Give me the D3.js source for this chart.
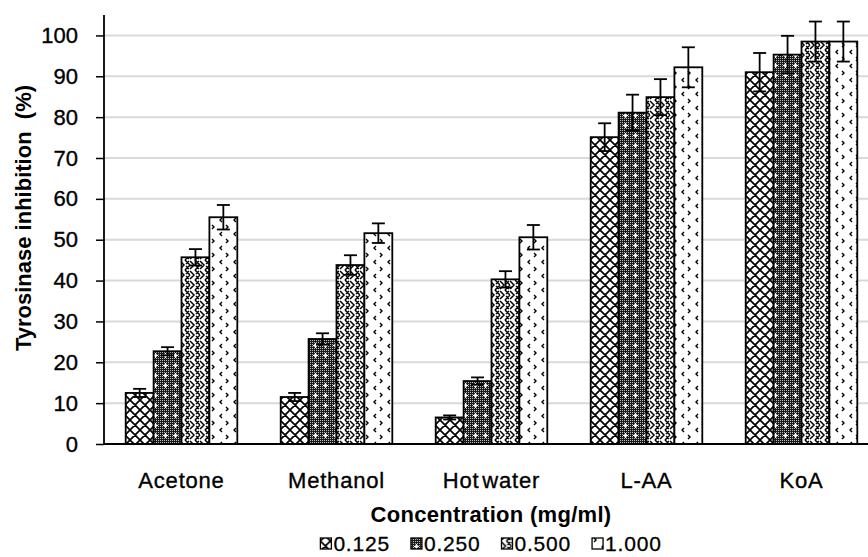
<!DOCTYPE html>
<meta charset="utf-8">
<style>
  body { margin: 0; background: #fff; }
  text { font-family: "Liberation Sans", Arial, sans-serif; fill: #000; }
</style>
<script src="https://d3js.org/d3.v7.min.js"></script>
<body>
<div id="chart"></div>
<script>

var categories = ["Acetone", "Methanol", "Hot water", "L-AA", "KoA"];
var series = ["0.125", "0.250", "0.500", "1.000"];

// mean inhibition (%) per concentration
var c0125 = [12.5, 11.5, 6.5, 75.1, 91.0];
var c0250 = [22.7, 25.7, 15.4, 81.1, 95.3];
var c0500 = [45.7, 43.8, 40.3, 84.9, 98.5];
var c1000 = [55.5, 51.6, 50.6, 92.2, 98.5];

// error (+/-)
var e0125 = [1.0, 1.0, 0.5, 3.4, 4.7];
var e0250 = [1.0, 1.4, 0.9, 4.4, 4.6];
var e0500 = [2.0, 2.4, 2.0, 4.4, 4.9];
var e1000 = [3.0, 2.4, 3.0, 4.9, 4.9];

var yTicks = [0, 10, 20, 30, 40, 50, 60, 70, 80, 90, 100];

var values = [c0125, c0250, c0500, c1000];
var errors = [e0125, e0250, e0500, e1000];

var width = 868,
    height = 557;

var svg = d3.select("#chart")
  .append("svg")
    .attr("width", width)
    .attr("height", height);

var defs = svg.append("defs");

// pattern 1: diamond lattice
var p1 = defs.append("pattern").attr("id", "pat0")
  .attr("patternUnits", "userSpaceOnUse").attr("width", 10).attr("height", 10);
p1.append("rect").attr("width", 10).attr("height", 10).attr("fill", "#fff");
p1.append("path").attr("d", "M0,0L10,10M10,0L0,10M-1,9L1,11M9,-1L11,1M-1,1L1,-1M9,11L11,9")
  .attr("stroke", "#000").attr("stroke-width", 1.7);

// pattern 2: dark fine grid with white crosses
var p2 = defs.append("pattern").attr("id", "pat1")
  .attr("patternUnits", "userSpaceOnUse").attr("width", 10).attr("height", 10);
p2.append("rect").attr("width", 10).attr("height", 10).attr("fill", "#1a1a1a");
for (var i = 0; i < 10; i += 2) {
  for (var j = 0; j < 10; j += 2) {
    p2.append("rect").attr("x", i).attr("y", j).attr("width", 1).attr("height", 1).attr("fill", "#bbb");
  }
}
p2.append("path").attr("d", "M3,5.5H8M5.5,3V8").attr("stroke", "#fff").attr("stroke-width", 1.2);

// pattern 3: weave / zigzag
var p3 = defs.append("pattern").attr("id", "pat2")
  .attr("patternUnits", "userSpaceOnUse").attr("width", 10).attr("height", 10);
p3.append("rect").attr("width", 10).attr("height", 10).attr("fill", "#fff");
p3.append("path")
  .attr("d", "M0,1L4,5L0,9M5,0L10,5L5,10M-1,6L0,5M10,5L11,4M6,4L9,1M6,6L9,9")
  .attr("stroke", "#000").attr("stroke-width", 1.5).attr("fill", "none");

// pattern 4: divots
var p4 = defs.append("pattern").attr("id", "pat3")
  .attr("patternUnits", "userSpaceOnUse").attr("width", 14).attr("height", 14);
p4.append("rect").attr("width", 14).attr("height", 14).attr("fill", "#fff");
p4.append("path").attr("d", "M2,1L4,3L2,5M12,8L10,10L12,12")
  .attr("stroke", "#000").attr("stroke-width", 1.4).attr("fill", "none");

var x0 = d3.scaleBand()
  .domain(categories)
  .range([104, 879])
  .paddingInner(0.28)
  .paddingOuter(0.14);

var x1 = d3.scaleBand()
  .domain(series)
  .range([0, x0.bandwidth()]);

var y = d3.scaleLinear()
  .domain([0, 105])
  .range([444, 15]);

// gridlines
svg.append("g")
  .selectAll("line")
  .data(yTicks.filter(function(d) { return d > 0; }))
  .enter().append("line")
    .attr("x1", 104).attr("x2", 879)
    .attr("y1", function(d) { return y(d); })
    .attr("y2", function(d) { return y(d); })
    .attr("stroke", "#d9d9d9")
    .attr("stroke-width", 2);

// y axis
var yAxis = svg.append("g")
  .attr("transform", "translate(104,0)")
  .call(d3.axisLeft(y).tickValues(yTicks).tickSize(8).tickPadding(18));
yAxis.select(".domain").attr("stroke", "#000").attr("stroke-width", 1.8).attr("d", "M0," + y(105) + "V" + y(0));
yAxis.selectAll(".tick line").attr("stroke", "#000").attr("stroke-width", 1.5);
yAxis.selectAll(".tick text")
  .attr("font-size", "22px")
  .attr("font-family", "Liberation Sans, Arial, sans-serif")
  .attr("fill", "#000")
  .attr("stroke", "#000")
  .attr("stroke-width", 0.35);

// bars
series.forEach(function(s, si) {
  var g = svg.append("g");
  g.selectAll("rect")
    .data(categories)
    .enter().append("rect")
      .attr("x", function(c) { return x0(c) + x1(s); })
      .attr("y", function(c, ci) { return y(values[si][ci]); })
      .attr("width", x1.bandwidth())
      .attr("height", function(c, ci) { return y(0) - y(values[si][ci]); })
      .attr("fill", "url(#pat" + si + ")")
      .attr("stroke", "#000")
      .attr("stroke-width", 1.8);
});

// error bars
series.forEach(function(s, si) {
  var g = svg.append("g").attr("stroke", "#000").attr("stroke-width", 1.8);
  categories.forEach(function(c, ci) {
    var cx = x0(c) + x1(s) + x1.bandwidth() / 2;
    var lo = y(values[si][ci] - errors[si][ci]);
    var hi = y(values[si][ci] + errors[si][ci]);
    g.append("line").attr("x1", cx).attr("x2", cx).attr("y1", lo).attr("y2", hi);
    g.append("line").attr("x1", cx - 6.5).attr("x2", cx + 6.5).attr("y1", lo).attr("y2", lo);
    g.append("line").attr("x1", cx - 6.5).attr("x2", cx + 6.5).attr("y1", hi).attr("y2", hi);
  });
});

// x axis line
svg.append("line")
  .attr("x1", 104).attr("x2", 879)
  .attr("y1", y(0)).attr("y2", y(0))
  .attr("stroke", "#000").attr("stroke-width", 1.8);

// category labels
svg.append("g")
  .selectAll("text")
  .data(categories)
  .enter().append("text")
    .attr("x", function(c) { return x0(c) + x0.bandwidth() / 2; })
    .attr("y", 488)
    .attr("text-anchor", "middle")
    .attr("font-size", "22px")
    .attr("letter-spacing", "0.8px")
    .attr("word-spacing", "-4px")
    .attr("stroke", "#000")
    .attr("stroke-width", 0.35)
    .text(function(c) { return c; });

// axis titles
svg.append("text")
  .attr("x", 491)
  .attr("y", 522)
  .attr("text-anchor", "middle")
  .attr("font-size", "22px")
  .attr("font-weight", "bold")
  .attr("letter-spacing", "0.3px")
  .text("Concentration (mg/ml)");

svg.append("text")
  .attr("transform", "translate(31,218) rotate(-90)")
  .attr("text-anchor", "middle")
  .attr("font-size", "22px")
  .attr("font-weight", "bold")
  .style("white-space", "pre")
  .text("Tyrosinase inhibition  (%)");

// legend
var legend = svg.append("g");
var lx = 0;
series.forEach(function(s, si) {
  var item = legend.append("g").attr("transform", "translate(" + lx + ",0)");
  item.append("rect")
    .attr("x", 0).attr("y", -13)
    .attr("width", 11).attr("height", 11)
    .attr("fill", "url(#pat" + si + ")")
    .attr("stroke", "#000").attr("stroke-width", 1.3);
  var t = item.append("text")
    .attr("x", 13).attr("y", 0)
    .attr("font-size", "21px")
    .attr("letter-spacing", "0.8px")
    .attr("stroke", "#000")
    .attr("stroke-width", 0.3)
    .text(s);
  lx += 13 + t.node().getComputedTextLength() + 21;
});
lx -= 21;
legend.attr("transform", "translate(" + (491 - lx / 2) + ",551)");

</script>
</body>
